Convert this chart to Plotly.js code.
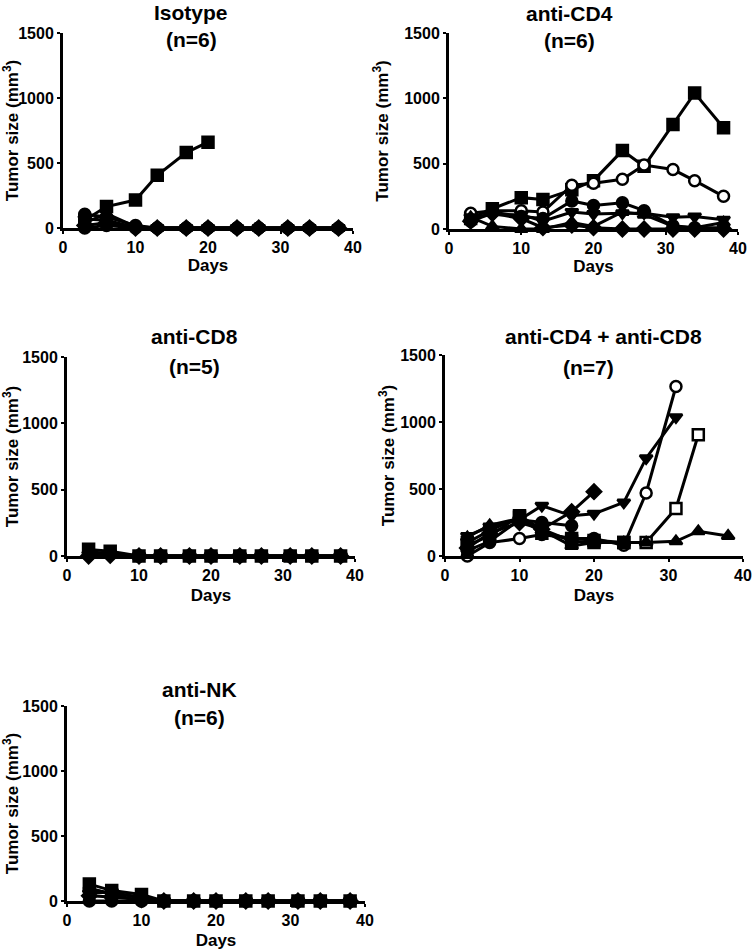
<!DOCTYPE html>
<html>
<head>
<meta charset="utf-8">
<script src="https://cdn.plot.ly/plotly-3.0.1.min.js"></script>
<style>html,body{margin:0;padding:0;background:#fff;}#chart{width:752px;height:951px;}</style>
</head>
<body>
<div id="chart"></div>
<script>
// Measurement days
const days = [3, 6, 10, 13, 17, 20, 24, 27, 31, 34, 38];
const xTicks = [0, 10, 20, 30, 40];
const yTicks = [0, 500, 1000, 1500];

// Panel titles
const panelTitles = ["Isotype", "anti-CD4", "anti-CD8", "anti-CD4 + anti-CD8", "anti-NK"];
const panelCounts = ["(n=6)", "(n=6)", "(n=5)", "(n=7)", "(n=6)"];

// Isotype (n=6), tumor size mm3
const iso_m1 = [60, 165, 215, 405, 580, 660];
const iso_m2 = [105, 85, 20, 0, 0, 0, 0, 0, 0, 0, 0];
const iso_m3 = [40, 110, 10, 0, 0, 0, 0, 0, 0, 0, 0];
const iso_m4 = [70, 60, 5, 0, 0, 0, 0, 0, 0, 0, 0];
const iso_m5 = [20, 40, 0, 0, 0, 0, 0, 0, 0, 0, 0];
const iso_m6 = [0, 20, 0, 0, 0, 0, 0, 0, 0, 0, 0];

// anti-CD4 (n=6)
const cd4_m1 = [80, 155, 240, 225, 300, 370, 600, 480, 800, 1040, 775];
const cd4_m2 = [120, 140, 140, 130, 335, 350, 380, 490, 455, 370, 250];
const cd4_m3 = [60, 130, 95, 80, 215, 180, 200, 140, 25, 10, 10];
const cd4_m4 = [90, 110, 110, 60, 130, 115, 120, 120, 90, 95, 70];
const cd4_m5 = [90, 20, 0, 0, 50, 20, 130, 110, 20, 10, 50];
const cd4_m6 = [60, 120, 80, 10, 30, 10, 0, 0, 0, 0, 0];

// anti-CD8 (n=5)
const cd8_m1 = [50, 35, 0, 0, 0, 0, 0, 0, 0, 0, 0];
const cd8_m2 = [30, 20, 0, 0, 0, 0, 0, 0, 0, 0, 0];
const cd8_m3 = [20, 10, 0, 0, 0, 0, 0, 0, 0, 0, 0];
const cd8_m4 = [10, 15, 0, 0, 0, 0, 0, 0, 0, 0, 0];
const cd8_m5 = [0, 5, 0, 0, 0, 0, 0, 0, 0, 0, 0];

// anti-CD4 + anti-CD8 (n=7)
const combo_m1 = [60, 170, 250, 200, 330, 480];
const combo_m2 = [0, 100, 130, 160, 130, 130, 80, 470, 1265];
const combo_m3 = [150, 220, 270, 375, 300, 315, 400, 730, 1035];
const combo_m4 = [80, 150, 300, 200, 110, 100, 100, 100, 355, 905];
const combo_m5 = [140, 230, 280, 190, 75, 100, 100, 100, 110, 185, 150];
const combo_m6 = [40, 110, 270, 250, 225];
const combo_m7 = [100, 190, 290, 170, 130, 115, 100];

// anti-NK (n=6)
const nk_m1 = [130, 80, 50, 0, 0, 0, 0, 0, 0, 0, 0];
const nk_m2 = [0, 0, 0, 0, 0, 0, 0, 0, 0, 0, 0];
const nk_m3 = [90, 60, 30, 0, 0, 0, 0, 0, 0, 0, 0];
const nk_m4 = [60, 70, 20, 0, 0, 0, 0, 0, 0, 0, 0];
const nk_m5 = [40, 30, 10, 0, 0, 0, 0, 0, 0, 0, 0];
const nk_m6 = [100, 50, 0, 0, 0, 0, 0, 0, 0, 0, 0];

const panels = [
  [[iso_m1,'square',false],[iso_m2,'circle',false],[iso_m3,'triangle-up',false],[iso_m4,'triangle-down',false],[iso_m5,'diamond',false],[iso_m6,'circle',false]],
  [[cd4_m1,'square',false],[cd4_m2,'circle',true],[cd4_m3,'circle',false],[cd4_m4,'triangle-down',false],[cd4_m5,'triangle-up',false],[cd4_m6,'diamond',false]],
  [[cd8_m1,'square',false],[cd8_m2,'circle',false],[cd8_m3,'triangle-up',false],[cd8_m4,'triangle-down',false],[cd8_m5,'diamond',false]],
  [[combo_m1,'diamond',false],[combo_m2,'circle',true],[combo_m3,'triangle-down',false],[combo_m4,'square',true],[combo_m5,'triangle-up',false],[combo_m6,'circle',false],[combo_m7,'square',false]],
  [[nk_m1,'square',false],[nk_m2,'circle',false],[nk_m3,'triangle-up',false],[nk_m4,'triangle-down',false],[nk_m5,'diamond',false],[nk_m6,'circle',false]]
];

const W = 752, H = 951;
// pixel boxes of each plot area: [x0, x1, yTop, yBottom]
const boxes = [
  [63, 353, 33, 228],
  [449, 738, 33, 229],
  [67, 355, 357, 556],
  [445, 743, 355, 556],
  [67, 365, 706, 901]
];
const yTitleStandoff = [4, 12, 5, 2, 4];
const xTitleStandoff = [0, 0, 6, 6, 6];
// title positions [x, y line1, x line2, y line2]
const titlePos = [
  [191, 12, 191, 40],
  [569, 13, 569, 41],
  [194, 336, 194, 366],
  [603, 336, 588, 367],
  [199, 689, 199, 717]
];

const FONT = 'Liberation Sans, Arial, sans-serif';
const traces = [];
const layout = {
  width: W, height: H,
  margin: {l: 0, r: 0, t: 0, b: 0},
  paper_bgcolor: '#fff', plot_bgcolor: 'rgba(0,0,0,0)',
  showlegend: false,
  font: {family: FONT, color: '#000', size: 16, weight: 'bold'},
  annotations: []
};

panels.forEach((series, i) => {
  const n = i + 1;
  const xa = 'xaxis' + (n === 1 ? '' : n), ya = 'yaxis' + (n === 1 ? '' : n);
  const xr = 'x' + (n === 1 ? '' : n), yr = 'y' + (n === 1 ? '' : n);
  const b = boxes[i];
  layout[xa] = {
    domain: [b[0] / W, b[1] / W], anchor: yr, range: [0, 40],
    tickvals: xTicks, showgrid: false, zeroline: false,
    showline: true, linecolor: '#000', linewidth: 3,
    ticks: 'outside', ticklen: 3, tickwidth: 2, tickcolor: '#000',
    tickfont: {family: FONT, size: 16, color: '#000', weight: 'bold'},
    title: {text: 'Days', font: {family: FONT, size: 17, color: '#000', weight: 'bold'}, standoff: xTitleStandoff[i]},
    fixedrange: true
  };
  layout[ya] = {
    domain: [1 - b[3] / H, 1 - b[2] / H], anchor: xr, range: [0, 1500],
    tickvals: yTicks, showgrid: false, zeroline: false,
    showline: true, linecolor: '#000', linewidth: 3,
    ticks: 'outside', ticklen: 3, tickwidth: 2, tickcolor: '#000',
    tickfont: {family: FONT, size: 16, color: '#000', weight: 'bold'},
    title: {text: 'Tumor size (mm<sup>3</sup>)', font: {family: FONT, size: 17, color: '#000', weight: 'bold'}, standoff: yTitleStandoff[i]},
    fixedrange: true
  };
  series.forEach(([vals, sym, open]) => {
    traces.push({
      type: 'scatter', mode: 'lines+markers',
      x: days.slice(0, vals.length), y: vals,
      xaxis: xr, yaxis: yr, cliponaxis: false,
      line: {color: '#000', width: 3},
      marker: {symbol: sym, size: 11, color: open ? '#fff' : '#000', line: {color: '#000', width: 2.5}}
    });
  });
  const t = titlePos[i];
  layout.annotations.push({
    text: panelTitles[i], xref: 'paper', yref: 'paper', x: t[0] / W, y: 1 - t[1] / H,
    xanchor: 'center', yanchor: 'middle', showarrow: false,
    font: {family: FONT, size: 21, color: '#000', weight: 'bold'}
  });
  layout.annotations.push({
    text: panelCounts[i], xref: 'paper', yref: 'paper', x: t[2] / W, y: 1 - t[3] / H,
    xanchor: 'center', yanchor: 'middle', showarrow: false,
    font: {family: FONT, size: 21, color: '#000', weight: 'bold'}
  });
});

Plotly.newPlot('chart', traces, layout, {staticPlot: true, displayModeBar: false});
</script>
</body>
</html>
